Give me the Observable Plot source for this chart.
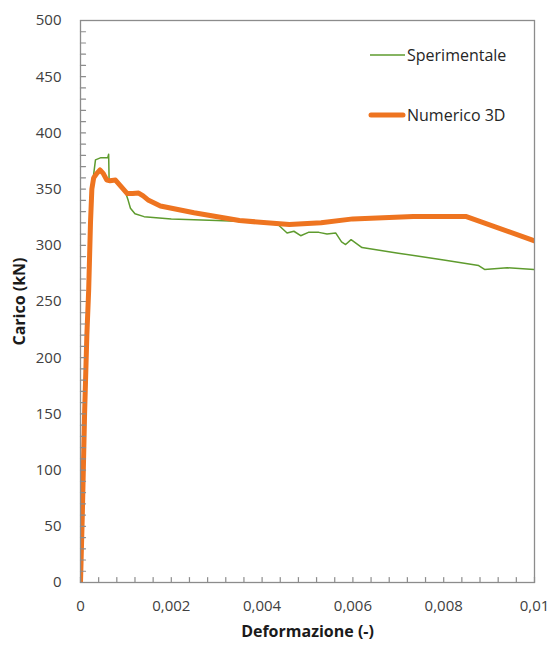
<!DOCTYPE html>
<html>
<head>
<meta charset="utf-8">
<script src="https://cdn.jsdelivr.net/npm/d3@7"></script>
<script src="https://cdn.jsdelivr.net/npm/@observablehq/plot@0.6"></script>
<style>
  html, body { margin: 0; padding: 0; background: #ffffff; }
  #wrap { position: relative; width: 549px; height: 645px; font-family: "Open Sans", sans-serif; }
  #legend { position: absolute; left: 360px; top: 40px; font-size: 16px; color: #262626; }
  .item { position: absolute; white-space: nowrap; display: flex; align-items: center; }
  .item svg { display: block; margin-right: 1px; }
</style>
</head>
<body>
<div id="wrap">
  <div id="chart"></div>
  <div id="legend">
    <div class="item" style="left:8px; top:4px;"><svg width="38" height="10"><line x1="2" y1="5" x2="37" y2="5" stroke="#5e9b2e" stroke-width="1.6"/></svg><span>Sperimentale</span></div>
    <div class="item" style="left:8px; top:64px;"><svg width="38" height="10"><line x1="3" y1="5" x2="35" y2="5" stroke="#ee7420" stroke-width="5" stroke-linecap="round"/></svg><span>Numerico 3D</span></div>
  </div>
</div>
<script>
// Experimental curve (Sperimentale)
const expStrain = [0, 0.00003, 0.00007, 0.00011, 0.00016, 0.00022, 0.00028, 0.00033, 0.00045, 0.00060, 0.00062, 0.00063, 0.00075, 0.00090, 0.00100, 0.00105, 0.00110, 0.00120, 0.00140, 0.00200, 0.00300, 0.00400, 0.00436, 0.00455, 0.00470, 0.00485, 0.00502, 0.00525, 0.00543, 0.00562, 0.00575, 0.00584, 0.00596, 0.00620, 0.00700, 0.00800, 0.00877, 0.00890, 0.00940, 0.01000];
const expLoad   = [0, 60, 130, 200, 260, 320, 360, 376, 378, 378, 381, 358, 357, 352, 346, 340, 333, 328, 325.5, 323.5, 322, 320.5, 318, 311, 312.5, 308.5, 311.5, 311.5, 310, 311, 303, 300.7, 305, 298, 293, 287, 282, 278.5, 280, 278.5];

// Numerical curve (Numerico 3D)
const numStrain = [0, 0.00002, 0.00004, 0.00009, 0.00014, 0.00018, 0.00022, 0.00025, 0.00029, 0.00036, 0.00043, 0.00050, 0.00058, 0.00065, 0.00077, 0.00090, 0.00103, 0.00115, 0.00128, 0.00138, 0.00150, 0.00176, 0.00250, 0.00350, 0.00460, 0.00530, 0.00600, 0.00733, 0.00850, 0.01000];
const numLoad   = [0, 30, 60, 150, 220, 260, 320, 350, 360, 364, 367, 364, 358, 357.5, 358, 352, 346, 346, 346.5, 344, 340, 335, 329, 322, 318.5, 320, 323.5, 325.6, 325.6, 304];

// Axis ticks
const xTickLabels = [0, 0.002, 0.004, 0.006, 0.008, 0.01];
const yTickLabels = [0, 50, 100, 150, 200, 250, 300, 350, 400, 450, 500];
const xMinorTicks = d3.range(0, 26).map(i => i * 0.0004);
const yMinorTicks = d3.range(0, 51).map(i => i * 10);

const expData = expStrain.map((x, i) => ({x, y: expLoad[i]}));
const numData = numStrain.map((x, i) => ({x, y: numLoad[i]}));

const fmt = d => d === 0 ? "0" : String(+d.toFixed(4)).replace(".", ",");
const tickShape = { draw(context, l) { context.moveTo(0, 0); context.lineTo(0, -l); } };

const chart = Plot.plot({
  width: 549,
  height: 645,
  marginLeft: 80,
  marginRight: 15,
  marginTop: 20,
  marginBottom: 63,
  style: { fontFamily: "Open Sans, sans-serif", fontSize: "15px", color: "#404040", background: "#ffffff" },
  x: { domain: [0, 0.01] },
  y: { domain: [0, 500] },
  marks: [
    Plot.line(expData, { x: "x", y: "y", stroke: "#5e9b2e", strokeWidth: 1.5, clip: true }),
    Plot.line(numData, { x: "x", y: "y", stroke: "#ee7420", strokeWidth: 5, strokeLinejoin: "round", strokeLinecap: "round", clip: true }),
    Plot.frame({ stroke: "#8c8c8c", strokeWidth: 1.3 }),
    Plot.vector(yMinorTicks, { x: () => 0, y: d => d, length: 5, rotate: 90, anchor: "start", shape: tickShape, stroke: "#8c8c8c", strokeWidth: 1.2 }),
    Plot.vector(xMinorTicks, { x: d => d, y: () => 0, length: 5, rotate: 0, anchor: "start", shape: tickShape, stroke: "#8c8c8c", strokeWidth: 1.2 }),
    Plot.axisY({ ticks: yTickLabels, tickSize: 0, tickPadding: 19, label: null, tickFormat: d => String(d), fill: "#404040" }),
    Plot.axisX({ ticks: xTickLabels, tickSize: 0, tickPadding: 18, label: null, tickFormat: fmt, fill: "#404040" }),
    Plot.text(["Carico (kN)"], { frameAnchor: "left", dx: -61, rotate: -90, textAnchor: "middle", lineAnchor: "middle", fontWeight: "bold", fontSize: 16, fill: "#1a1a1a" }),
    Plot.text(["Deformazione (-)"], { frameAnchor: "bottom", dy: 54, textAnchor: "middle", fontWeight: "bold", fontSize: 16, fill: "#1a1a1a" })
  ]
});
document.getElementById("chart").appendChild(chart);
</script>
</body>
</html>
